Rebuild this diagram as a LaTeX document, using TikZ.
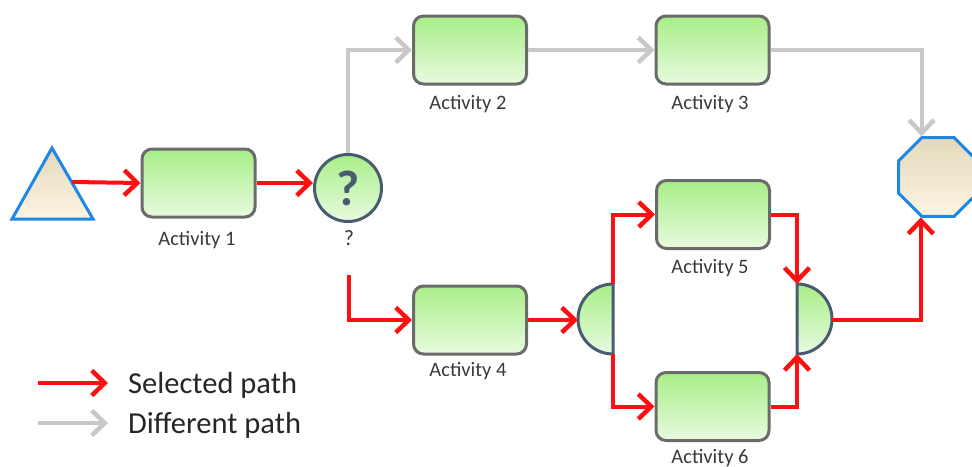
\documentclass[tikz,border=0pt]{standalone}
\usepackage{fontspec}
\setmainfont{Carlito}
\usetikzlibrary{arrows.meta,shapes.geometric,calc}

\definecolor{greentop}{HTML}{A8EE88}
\definecolor{greenbot}{HTML}{E8FBDF}
\definecolor{boxborder}{HTML}{6B6B6B}
\definecolor{slate}{HTML}{4A5A70}
\definecolor{beigetop}{HTML}{E4D9BC}
\definecolor{beigebot}{HTML}{FDF4E2}
\definecolor{edgeblue}{HTML}{1E88E5}
\definecolor{selred}{HTML}{FF1010}
\definecolor{difgray}{HTML}{C8C8C8}
\definecolor{labelgray}{HTML}{3A3A3A}

\begin{document}
\begin{tikzpicture}[x=1pt,y=1pt,
  act/.style={draw=boxborder, line width=3pt, rounded corners=10pt,
    minimum width=113pt, minimum height=68pt, inner sep=0pt,
    top color=greentop, bottom color=greenbot},
  lbl/.style={font=\fontsize{20.5}{20.5}\selectfont, text=labelgray, inner sep=0pt},
  chev/.style={-{Straight Barb[length=13pt,width=25pt,line width=4.5pt]}},
  sel/.style={draw=selred, line width=4pt, chev},
  dif/.style={draw=difgray, line width=4pt, chev},
  gate/.style={draw=slate, line width=3pt, top color=greentop, bottom color=greenbot},
  term/.style={draw=edgeblue, line width=3pt, top color=beigetop, bottom color=beigebot, line join=miter},
]
\useasboundingbox (0,0) rectangle (972,-466);

% start event
\path[term] (12,-219) -- (93,-219) -- (52,-148) -- cycle;
\coordinate (start) at (72,-182);

% activities
\node[act] (a1) at (198.5,-183) {};
\node[act] (a2) at (470,-50) {};
\node[act] (a3) at (712.5,-50) {};
\node[act] (a4) at (470,-320) {};
\node[act] (a5) at (713,-214.5) {};
\node[act] (a6) at (712.5,-406.5) {};

\node[lbl] at (197,-240) {Activity 1};
\node[lbl] at (468,-104) {Activity 2};
\node[lbl] at (710,-104) {Activity 3};
\node[lbl] at (468,-371) {Activity 4};
\node[lbl] at (710,-268) {Activity 5};
\node[lbl] at (710,-458) {Activity 6};

% decision
\node[circle, draw=slate, line width=3pt, minimum size=67pt, inner sep=0pt,
  top color=greentop, bottom color=greenbot, text=slate,
  font=\fontsize{50}{50}\selectfont\bfseries] (dec) at (348,-188) {?};
\node[lbl, font=\fontsize{22}{22}\selectfont] (declbl) at (349,-238) {?};
\coordinate (decout) at (349,-275);

% parallel split and join
\path[gate] (613,-284) arc[start angle=90, end angle=270, radius=35] -- cycle;
\path[gate] (797,-284) arc[start angle=90, end angle=-90, radius=35] -- cycle;
\coordinate (splitin) at (578,-320);
\coordinate (splittop) at (613,-284);
\coordinate (splitbot) at (613,-354);
\coordinate (jointop) at (797,-284);
\coordinate (joinbot) at (797,-354);
\coordinate (joinout) at (832,-320);

% end event
\node[regular polygon, regular polygon sides=8, minimum size=85pt, inner sep=0pt,
  term] (end) at (938,-177) {};

% selected path
\draw[sel] (start) -- (a1.west);
\draw[sel] (a1.east) -- (a1.east -| dec.west);
\draw[sel] (decout) |- (a4.west);
\draw[sel] (a4.east) -- (splitin);
\draw[sel] (splittop) |- (a5.west);
\draw[sel] (splitbot) |- (a6.west);
\draw[sel] (a5.east) -| (jointop);
\draw[sel] (a6.east) -| (joinbot);
\draw[sel] (joinout) -| (end.247.5);

% different path
\draw[dif] (dec.north) |- (a2.west);
\draw[dif] (a2.east) -- (a3.west);
\draw[dif] (a3.east) -| (end.112.5);

% legend
\coordinate (l1a) at (38,-383);
\coordinate (l1b) at (108,-383);
\coordinate (l2a) at (38,-423);
\coordinate (l2b) at (108,-423);
\draw[sel] (l1a) -- (l1b);
\draw[dif] (l2a) -- (l2b);
\node[anchor=west, inner sep=0pt, font=\fontsize{30.5}{30.5}\selectfont, text=black!85] at (128,-385) {Selected path};
\node[anchor=west, inner sep=0pt, font=\fontsize{30.5}{30.5}\selectfont, text=black!85] at (128,-425) {Different path};
\end{tikzpicture}
\end{document}
